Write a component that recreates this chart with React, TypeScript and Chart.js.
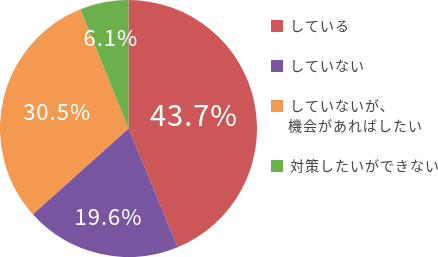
import React, { useEffect, useRef } from "react";
import { Chart, registerables } from "chart.js";

Chart.register(...registerables);

const categories: string[][] = [
  ["している"],
  ["していない"],
  ["していないが、", "機会があればしたい"],
  ["対策したいができない"],
];
const values: number[] = [43.7, 19.6, 30.5, 6.1];
const valueLabels: string[] = ["43.7%", "19.6%", "30.5%", "6.1%"];
const colors: string[] = ["#CC5658", "#7854A1", "#F39A50", "#6BB04B"];
const labelRadius: number[] = [0.52, 0.7, 0.57, 0.72];
const labelFontSize: number[] = [29, 22, 22, 22];

const overlayPlugin = {
  id: "overlay",
  afterDatasetsDraw(chart: any) {
    const ctx = chart.ctx;
    const meta = chart.getDatasetMeta(0);
    ctx.save();
    ctx.textAlign = "center";
    ctx.textBaseline = "middle";
    ctx.fillStyle = "#ffffff";
    meta.data.forEach((arc: any, i: number) => {
      const { x, y, startAngle, endAngle, outerRadius } = arc.getProps(
        ["x", "y", "startAngle", "endAngle", "outerRadius"],
        true
      );
      const mid = (startAngle + endAngle) / 2;
      const r = outerRadius * labelRadius[i];
      ctx.font = `${labelFontSize[i]}px "Noto Sans CJK JP", sans-serif`;
      (ctx as any).letterSpacing = "1px";
      ctx.fillText(valueLabels[i], x + Math.cos(mid) * r, y + Math.sin(mid) * r);
    });
    ctx.restore();

    // legend
    ctx.save();
    const lx = chart.chartArea.right + 14;
    let cy = 26;
    ctx.textAlign = "left";
    ctx.textBaseline = "middle";
    ctx.font = `14px "Noto Sans CJK JP", sans-serif`;
    (ctx as any).letterSpacing = "1px";
    categories.forEach((lines, i) => {
      ctx.fillStyle = colors[i];
      ctx.fillRect(lx, cy - 6, 12, 12);
      ctx.fillStyle = "#444444";
      lines.forEach((t, j) => {
        ctx.fillText(t, lx + 19 - (j > 0 ? 2 : 0), cy + j * 20);
      });
      cy += 40 + (lines.length - 1) * 20;
    });
    ctx.restore();
  },
};

export default function App() {
  const ref = useRef<HTMLCanvasElement | null>(null);
  useEffect(() => {
    if (!ref.current) return;
    const chart = new Chart(ref.current, {
      type: "pie",
      data: {
        labels: categories.map((c) => c.join("")),
        datasets: [
          {
            data: values,
            backgroundColor: colors,
            borderWidth: 0,
          },
        ],
      },
      options: {
        animation: false,
        responsive: false,
        layout: { padding: { left: 0, top: 0, bottom: 0, right: 181 } },
        plugins: {
          legend: { display: false },
          tooltip: { enabled: false },
        },
      },
      plugins: [overlayPlugin],
    });
    return () => chart.destroy();
  }, []);
  return (
    <div style={{ position: "fixed", left: 0, top: 0, width: 438, height: 257, background: "#fff" }}>
      <canvas ref={ref} width={438} height={257} style={{ width: 438, height: 257 }} />
    </div>
  );
}
